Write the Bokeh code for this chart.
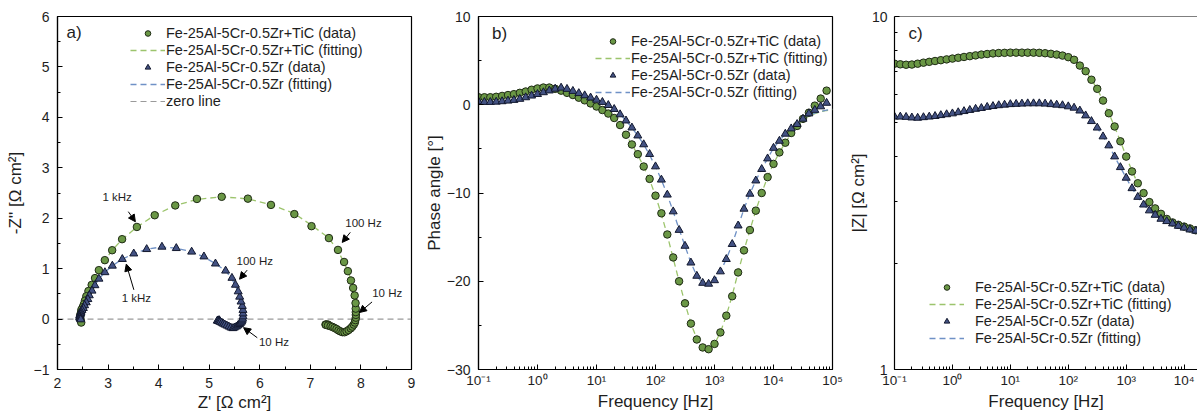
import math
from bokeh.plotting import figure
from bokeh.models import (Legend, LegendItem, Label, Arrow, NormalHead, Span,
                          FixedTicker, CustomJSTickFormatter)
from bokeh.layouts import row
from bokeh.embed import file_html
from bokeh.resources import INLINE

FONT = "Liberation Sans"
TXT = "#1e1e1e"

# ---------------- data ----------------
freq = [0.1, 0.1259, 0.1585, 0.1995, 0.2512, 0.3162, 0.3981, 0.5012, 0.631, 0.7943,
        1.0, 1.259, 1.585, 1.995, 2.512, 3.162, 3.981, 5.012, 6.31, 7.943,
        10.0, 12.59, 15.85, 19.95, 25.12, 31.62, 39.81, 50.12, 63.1, 79.43,
        100.0, 125.9, 158.5, 199.5, 251.2, 316.2, 398.1, 501.2, 631.0, 794.3,
        1000.0, 1259.0, 1585.0, 1995.0, 2512.0, 3162.0, 3981.0, 5012.0, 6310.0, 7943.0,
        10000.0, 12590.0, 15850.0, 19950.0, 25120.0, 31620.0, 39810.0, 50120.0, 63100.0, 79430.0]

phase_tic = [0.85, 0.85, 0.85, 0.9, 1.0, 1.1, 1.2, 1.35, 1.5, 1.7,
             1.85, 1.95, 1.95, 1.8, 1.6, 1.35, 1.1, 0.8, 0.5, 0.15,
             -0.2, -0.6, -1.0, -1.5, -2.3, -3.4, -4.5, -5.6, -7.0, -8.4,
             -10.3, -12.3, -14.7, -17.3, -20.0, -22.5, -24.8, -26.6, -27.5, -27.7,
             -27.1, -25.8, -23.9, -21.7, -19.0, -16.5, -14.2, -12.0, -10.0, -8.2,
             -6.7, -5.4, -4.3, -3.2, -2.4, -1.6, -0.9, -0.1, 0.7, 1.6]

phase_zr = [0.35, 0.3, 0.3, 0.33, 0.38, 0.45, 0.53, 0.65, 0.83, 1.02,
            1.2, 1.4, 1.6, 1.8, 1.92, 1.78, 1.55, 1.3, 1.05, 0.8,
            0.55, 0.3, -0.05, -0.5, -1.1, -1.8, -2.6, -3.5, -4.5, -5.6,
            -7.0, -8.5, -10.2, -12.1, -14.2, -16.0, -17.9, -19.4, -20.2, -20.3,
            -19.9, -18.9, -17.5, -15.8, -13.7, -11.8, -10.1, -8.6, -7.3, -6.1,
            -4.9, -4.1, -3.3, -2.7, -2.2, -1.6, -1.0, -0.6, -0.2, 0.2]

mag_tic = [7.35, 7.32, 7.3, 7.31, 7.35, 7.4, 7.44, 7.48, 7.52, 7.56,
           7.6, 7.64, 7.68, 7.72, 7.76, 7.8, 7.83, 7.86, 7.88, 7.89,
           7.9, 7.9, 7.9, 7.9, 7.9, 7.89, 7.87, 7.84, 7.8, 7.75,
           7.67, 7.54, 7.26, 7.0, 6.62, 6.24, 5.78, 5.32, 4.88, 4.43,
           4.01, 3.64, 3.37, 3.16, 2.98, 2.86, 2.76, 2.67, 2.61, 2.57,
           2.54, 2.51, 2.48, 2.47, 2.46, 2.45, 2.45, 2.45, 2.46, 2.47]

mag_zr = [5.2, 5.2, 5.19, 5.17, 5.16, 5.18, 5.2, 5.22, 5.25, 5.28,
          5.31, 5.35, 5.39, 5.43, 5.47, 5.5, 5.54, 5.57, 5.6, 5.62,
          5.64, 5.65, 5.66, 5.67, 5.67, 5.67, 5.66, 5.64, 5.62, 5.6,
          5.56, 5.51, 5.41, 5.24, 5.05, 4.84, 4.57, 4.31, 4.01, 3.74,
          3.49, 3.26, 3.08, 2.93, 2.82, 2.74, 2.67, 2.63, 2.59, 2.55,
          2.52, 2.49, 2.47, 2.46, 2.45, 2.44, 2.44, 2.44, 2.45, 2.46]

fit_freq = freq + [100000.0]

fit_phase_tic = [0.85, 0.85, 0.86, 0.9, 0.98, 1.08, 1.2, 1.35, 1.52, 1.7,
                 1.85, 1.94, 1.96, 1.82, 1.6, 1.35, 1.08, 0.8, 0.5, 0.15,
                 -0.2, -0.6, -1.0, -1.55, -2.3, -3.4, -4.5, -5.7, -7.0, -8.5,
                 -10.3, -12.4, -14.8, -17.4, -20.0, -22.5, -24.8, -26.5, -27.5, -27.7,
                 -27.1, -25.8, -23.9, -21.6, -19.0, -16.5, -14.2, -12.0, -10.0, -8.2,
                 -6.7, -5.4, -4.3, -3.3, -2.4, -1.7, -1.3, -1.0, -0.8, -0.65, -0.55]

fit_phase_zr = [0.32, 0.3, 0.3, 0.33, 0.38, 0.45, 0.54, 0.66, 0.83, 1.02,
                1.2, 1.4, 1.6, 1.78, 1.88, 1.8, 1.58, 1.32, 1.05, 0.8,
                0.55, 0.28, -0.05, -0.5, -1.1, -1.8, -2.6, -3.5, -4.5, -5.7,
                -7.0, -8.5, -10.2, -12.1, -14.1, -16.0, -17.9, -19.4, -20.2, -20.3,
                -19.9, -18.9, -17.5, -15.8, -13.8, -11.8, -10.1, -8.6, -7.3, -6.1,
                -4.9, -4.1, -3.3, -2.7, -2.2, -1.6, -1.2, -0.95, -0.75, -0.6, -0.5]

fit_mag_tic = [7.34, 7.32, 7.31, 7.32, 7.35, 7.39, 7.43, 7.47, 7.51, 7.55,
               7.6, 7.64, 7.68, 7.72, 7.76, 7.8, 7.83, 7.86, 7.88, 7.89,
               7.9, 7.9, 7.9, 7.9, 7.9, 7.89, 7.87, 7.84, 7.8, 7.74,
               7.66, 7.53, 7.27, 7.0, 6.63, 6.23, 5.78, 5.32, 4.87, 4.43,
               4.02, 3.65, 3.37, 3.16, 2.98, 2.86, 2.76, 2.67, 2.61, 2.57,
               2.54, 2.51, 2.49, 2.47, 2.46, 2.45, 2.45, 2.45, 2.45, 2.45, 2.45]

fit_mag_zr = [5.2, 5.19, 5.18, 5.17, 5.17, 5.18, 5.2, 5.22, 5.25, 5.28,
              5.31, 5.35, 5.39, 5.43, 5.47, 5.5, 5.54, 5.57, 5.6, 5.62,
              5.64, 5.65, 5.66, 5.67, 5.67, 5.67, 5.66, 5.64, 5.62, 5.59,
              5.55, 5.5, 5.41, 5.24, 5.05, 4.84, 4.57, 4.31, 4.01, 3.74,
              3.49, 3.26, 3.08, 2.93, 2.82, 2.74, 2.67, 2.63, 2.59, 2.55,
              2.52, 2.49, 2.47, 2.46, 2.45, 2.44, 2.44, 2.44, 2.44, 2.44, 2.44]

zero_line_x = [2, 9]
zero_line_y = [0, 0]

name_tic = "Fe-25Al-5Cr-0.5Zr+TiC"
name_zr = "Fe-25Al-5Cr-0.5Zr"

log_ticks = [0.1, 1.0, 10.0, 100.0, 1000.0, 10000.0, 100000.0]
log_tick_labels = ["10⁻¹", "10⁰", "10¹", "10²", "10³", "10⁴", "10⁵"]
log_minor = [m * 10.0 ** e for e in range(-1, 5) for m in range(2, 10)]

# Nyquist coordinates derived from |Z| and phase angle
def nyquist(mag, ph):
    zre = [m * math.cos(math.radians(a)) for m, a in zip(mag, ph)]
    zim = [-m * math.sin(math.radians(a)) for m, a in zip(mag, ph)]
    return zre, zim

nq_tic_x, nq_tic_y = nyquist(mag_tic, phase_tic)
nq_zr_x, nq_zr_y = nyquist(mag_zr, phase_zr)
nqf_tic_x, nqf_tic_y = nyquist(fit_mag_tic, fit_phase_tic)
nqf_zr_x, nqf_zr_y = nyquist(fit_mag_zr, fit_phase_zr)

# ---------------- styles ----------------
C_FILL = "#6a9745"
C_EDGE = "#1f2b15"
T_FILL = "#435283"
T_EDGE = "#12182e"
FIT_G = "#9cc46c"
FIT_B = "#6f91c6"
ZERO = "#9a9a9a"
DASH = "6 4"


def base_fig(width, bl, br, **kw):
    p = figure(width=width, height=414, output_backend="svg", toolbar_location=None,
               min_border_left=bl, min_border_right=br, min_border_top=16,
               min_border_bottom=44, **kw)
    p.xgrid.visible = False
    p.ygrid.visible = False
    p.outline_line_color = "black"
    p.outline_line_width = 1.2
    p.background_fill_color = "white"
    p.border_fill_color = "white"
    for ax in p.xaxis + p.yaxis:
        ax.axis_line_color = "black"
        ax.axis_line_width = 1.2
        ax.major_tick_in = 5
        ax.major_tick_out = 0
        ax.minor_tick_in = 3
        ax.minor_tick_out = 0
        ax.major_tick_line_color = "black"
        ax.minor_tick_line_color = "black"
        ax.major_label_text_font = FONT
        ax.major_label_text_font_size = "14px"
        ax.major_label_text_color = TXT
        ax.axis_label_text_font = FONT
        ax.axis_label_text_font_size = "17px"
        ax.axis_label_text_font_style = "normal"
        ax.axis_label_text_color = TXT
        ax.major_label_standoff = 8
        ax.axis_label_standoff = 2
    return p


def make_legend(p, items, loc, standoff):
    leg = Legend(items=items, location=loc, padding=0, margin=0, spacing=1,
                 glyph_width=35, glyph_height=14, label_height=14,
                 label_standoff=standoff, border_line_color=None,
                 background_fill_alpha=0, label_text_font=FONT,
                 label_text_font_size="14.5px", label_text_color=TXT)
    p.add_layout(leg)


def log_x(p):
    p.xaxis.ticker = FixedTicker(ticks=log_ticks, minor_ticks=log_minor)
    p.xaxis.formatter = CustomJSTickFormatter(
        args=dict(tvals=log_ticks, tlabels=log_tick_labels),
        code="""
        let best = 0, d = Infinity;
        for (let i = 0; i < tvals.length; i++) {
            const di = Math.abs(Math.log10(tvals[i]) - Math.log10(tick));
            if (di < d) { d = di; best = i; }
        }
        return tlabels[best];
        """)
    p.xaxis.major_label_text_font_size = "13.5px"
    p.xaxis.major_label_standoff = 3
    p.xaxis.axis_label_standoff = 1


# ---------------- a) Nyquist ----------------
pa = base_fig(418, 57, 7, x_range=(2, 9), y_range=(-1, 6))
pa.xaxis.ticker = FixedTicker(ticks=[2, 3, 4, 5, 6, 7, 8, 9],
                              minor_ticks=[2.5, 3.5, 4.5, 5.5, 6.5, 7.5, 8.5])
pa.yaxis.ticker = FixedTicker(ticks=[-1, 0, 1, 2, 3, 4, 5, 6],
                              minor_ticks=[-0.5, 0.5, 1.5, 2.5, 3.5, 4.5, 5.5])
pa.xaxis.axis_label = "Z' [Ω cm²]"
pa.yaxis.axis_label = "-Z'' [Ω cm²]"
pa.yaxis.axis_label_standoff = 6

r_zero = pa.line(zero_line_x, zero_line_y, line_color=ZERO, line_dash=DASH, line_width=1.2)
ra_tf = pa.line(nqf_tic_x, nqf_tic_y, line_color=FIT_G, line_dash=DASH, line_width=1.3)
ra_zf = pa.line(nqf_zr_x, nqf_zr_y, line_color=FIT_B, line_dash=DASH, line_width=1.3)
ra_t = pa.scatter(nq_tic_x, nq_tic_y, marker="circle", size=7.5, fill_color=C_FILL,
                  line_color=C_EDGE, line_width=1)
ra_z = pa.scatter(nq_zr_x, nq_zr_y, marker="triangle", size=8, fill_color=T_FILL,
                  line_color=T_EDGE, line_width=1)
make_legend(pa, [LegendItem(label=name_tic + " (data)", renderers=[ra_t]),
                 LegendItem(label=name_tic + " (fitting)", renderers=[ra_tf]),
                 LegendItem(label=name_zr + " (data)", renderers=[ra_z]),
                 LegendItem(label=name_zr + " (fitting)", renderers=[ra_zf]),
                 LegendItem(label="zero line", renderers=[r_zero])], (73, 260), 1)
pa.add_layout(Label(x=2.18, y=5.69, text="a)", text_baseline="middle", text_font=FONT,
                    text_font_size="17px", text_color=TXT))

ann = [("1 kHz", 3.18, 2.43, 3.40, 2.13, 3.54, 1.93),
       ("1 kHz", 3.56, 0.41, 3.51, 0.58, 3.36, 1.09),
       ("100 Hz", 5.90, 1.15, 5.75, 0.97, 5.60, 0.79),
       ("10 Hz", 6.28, -0.45, 5.95, -0.37, 5.68, -0.17),
       ("100 Hz", 8.05, 1.90, 7.79, 1.72, 7.63, 1.52),
       ("10 Hz", 8.52, 0.51, 8.22, 0.34, 7.97, 0.13)]
for t, tx, ty, x0, y0, x1, y1 in ann:
    pa.add_layout(Label(x=tx, y=ty, text=t, text_align="center", text_baseline="middle",
                        text_font=FONT, text_font_size="11.5px", text_color=TXT))
    pa.add_layout(Arrow(end=NormalHead(size=7, fill_color="black", line_color="black"),
                        x_start=x0, y_start=y0, x_end=x1, y_end=y1,
                        line_color="black", line_width=1))

# ---------------- b) phase ----------------
pb = base_fig(427, 60, 13, x_axis_type="log", x_range=(0.1, 1e5), y_range=(-30, 10))
log_x(pb)
pb.yaxis.ticker = FixedTicker(ticks=[-30, -20, -10, 0, 10], minor_ticks=[-25, -15, -5, 5])
pb.xaxis.axis_label = "Frequency [Hz]"
pb.yaxis.axis_label = "Phase angle [°]"
pb.yaxis.axis_label_standoff = 0
rb_tf = pb.line(fit_freq, fit_phase_tic, line_color=FIT_G, line_dash=DASH, line_width=1.3)
rb_zf = pb.line(fit_freq, fit_phase_zr, line_color=FIT_B, line_dash=DASH, line_width=1.3)
rb_t = pb.scatter(freq, phase_tic, marker="circle", size=7.5, fill_color=C_FILL,
                  line_color=C_EDGE, line_width=1)
rb_z = pb.scatter(freq, phase_zr, marker="triangle", size=8, fill_color=T_FILL,
                  line_color=T_EDGE, line_width=1)
make_legend(pb, [LegendItem(label=name_tic + " (data)", renderers=[rb_t]),
                 LegendItem(label=name_tic + " (fitting)", renderers=[rb_tf]),
                 LegendItem(label=name_zr + " (data)", renderers=[rb_z]),
                 LegendItem(label=name_zr + " (fitting)", renderers=[rb_zf])], (117, 269), 1)
pb.add_layout(Label(x=0.17, y=8.04, text="b)", text_baseline="middle", text_font=FONT,
                    text_font_size="17px", text_color=TXT))

# ---------------- c) |Z| ----------------
pc = base_fig(352, 46, 0, x_axis_type="log", y_axis_type="log",
              x_range=(0.1, 10 ** 4.231), y_range=(1, 10))
pc.outline_line_color = None
pc.add_layout(Span(location=10, dimension="width", line_color="black", line_width=1.2))
log_x(pc)
pc.yaxis.ticker = FixedTicker(ticks=[1, 10], minor_ticks=[2, 3, 4, 5, 6, 7, 8, 9])
pc.yaxis.formatter = CustomJSTickFormatter(code="return String(Math.round(tick))")
pc.yaxis.major_label_standoff = 7
pc.xaxis.axis_label = "Frequency [Hz]"
pc.yaxis.axis_label = "|Z| [Ω cm²]"
pc.yaxis.axis_label_standoff = 1
rc_tf = pc.line(fit_freq, fit_mag_tic, line_color=FIT_G, line_dash=DASH, line_width=1.3)
rc_zf = pc.line(fit_freq, fit_mag_zr, line_color=FIT_B, line_dash=DASH, line_width=1.3)
rc_t = pc.scatter(freq, mag_tic, marker="circle", size=7.5, fill_color=C_FILL,
                  line_color=C_EDGE, line_width=1)
rc_z = pc.scatter(freq, mag_zr, marker="triangle", size=8, fill_color=T_FILL,
                  line_color=T_EDGE, line_width=1)
make_legend(pc, [LegendItem(label=name_tic + " (data)", renderers=[rc_t]),
                 LegendItem(label=name_tic + " (fitting)", renderers=[rc_tf]),
                 LegendItem(label=name_zr + " (data)", renderers=[rc_z]),
                 LegendItem(label=name_zr + " (fitting)", renderers=[rc_zf])], (35, 23), 11)
pc.add_layout(Label(x=0.175, y=8.95, text="c)", text_baseline="middle", text_font=FONT,
                    text_font_size="17px", text_color=TXT))

layout = row(pa, pb, pc)
open("out.html", "w").write(file_html(layout, INLINE))
